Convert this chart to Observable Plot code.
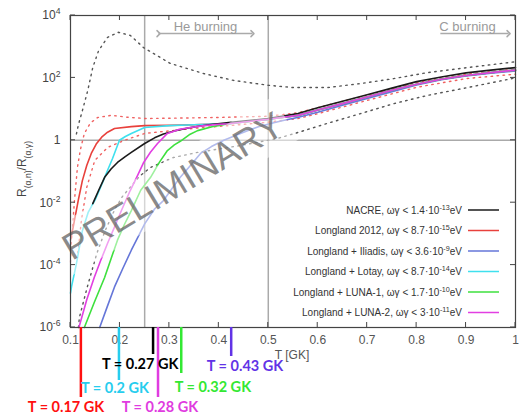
<!DOCTYPE html>
<html><head><meta charset="utf-8">
<script src="https://cdn.jsdelivr.net/npm/d3@7"></script>
<script src="https://cdn.jsdelivr.net/npm/@observablehq/plot@0.6"></script>
<style>
html,body{margin:0;padding:0;background:#fff;}
#chart svg{display:block;overflow:visible;}
</style></head><body><div id="chart"></div>
<script>
// ---------- data ----------
const legendLabels = [
  "NACRE, ωγ < 1.4·10^{-13}eV",
  "Longland 2012, ωγ < 8.7·10^{-15}eV",
  "Longland + Iliadis, ωγ < 3.6·10^{-9}eV",
  "Longland + Lotay, ωγ < 8.7·10^{-14}eV",
  "Longland + LUNA-1, ωγ < 1.7·10^{-10}eV",
  "Longland + LUNA-2, ωγ < 3·10^{-11}eV"
];
const seriesColors = ["#1b1b1b", "#e8413c", "#6576d8", "#3fe0ee", "#3ee03e", "#e23fe2"];

const tailT = [0.42, 0.46, 0.5, 0.56, 0.6, 0.65, 0.7, 0.75, 0.8, 0.85, 0.9, 0.95, 1.0];
const tailR = [3.4, 4.0, 4.7, 6.3, 9.3, 15, 24.5, 40, 63, 91, 120, 148, 178];

const nacreT = [0.145, 0.157, 0.169, 0.182, 0.195, 0.21, 0.223, 0.25, 0.27, 0.288, 0.31, 0.343, 0.38, 0.42, 0.46, 0.5, 0.56, 0.6, 0.65, 0.7, 0.75, 0.8, 0.85, 0.9, 0.95, 1.0];
const nacreR = [0.0093, 0.025, 0.065, 0.12, 0.195, 0.295, 0.41, 0.79, 1.2, 1.58, 2.0, 2.57, 3.16, 3.7, 4.3, 5.0, 7.2, 11, 17.8, 29, 47, 76, 107, 145, 178, 214];

const l12T = [0.1, 0.104, 0.108, 0.116, 0.124, 0.133, 0.142, 0.152, 0.163, 0.175, 0.189, 0.223, 0.25, 0.3, 0.35, 0.39];
const l12R = [6.3e-4, 1.26e-3, 2.7e-3, 0.0126, 0.051, 0.158, 0.38, 0.76, 1.26, 1.82, 2.4, 2.75, 2.95, 3.0, 3.16, 3.3];

const iliadisT = [0.159, 0.174, 0.189, 0.206, 0.223, 0.25, 0.27, 0.288, 0.305, 0.322, 0.343, 0.363, 0.385, 0.41, 0.435, 0.458, 0.48, 0.505, 0.53, 0.559, 0.6, 0.65, 0.7, 0.75, 0.8, 0.85, 0.9, 0.95, 1.0];
const iliadisR = [1e-6, 4.5e-6, 2e-5, 7.9e-5, 3e-4, 2.1e-3, 6.3e-3, 0.0117, 0.028, 0.065, 0.158, 0.38, 0.63, 1.0, 1.45, 2.04, 2.7, 3.47, 4.3, 5.4, 7.9, 13.2, 22, 36, 59, 87, 115, 141, 166];

const lotayT = [0.1, 0.102, 0.112, 0.124, 0.136, 0.15, 0.165, 0.175, 0.185, 0.199, 0.211, 0.223, 0.25, 0.3, 0.35, 0.39];
const lotayR = [1.26e-5, 2.0e-5, 1.12e-4, 1.26e-3, 5e-3, 0.0126, 0.045, 0.11, 0.26, 1.0, 1.32, 1.66, 2.57, 2.95, 3.16, 3.3];

const luna1T = [0.128, 0.148, 0.169, 0.182, 0.195, 0.209, 0.223, 0.242, 0.262, 0.28, 0.296, 0.31, 0.322, 0.34, 0.357, 0.39];
const luna1R = [1e-6, 6.3e-6, 4e-5, 1.6e-4, 6.3e-4, 2e-3, 5.6e-3, 0.025, 0.065, 0.2, 0.47, 0.71, 0.93, 1.5, 2.04, 2.8];

const luna2T = [0.117, 0.133, 0.148, 0.161, 0.175, 0.19, 0.203, 0.221, 0.235, 0.248, 0.262, 0.276, 0.296, 0.32, 0.343, 0.37, 0.4];
const luna2R = [1e-6, 7.9e-6, 4e-5, 1.4e-4, 5e-4, 1.8e-3, 5.6e-3, 0.025, 0.071, 0.195, 0.42, 0.79, 1.66, 2.24, 2.57, 2.95, 3.24];

// uncertainty bands (dotted)
const nacreHiT = [0.112, 0.116, 0.124, 0.135, 0.145, 0.157, 0.175, 0.197, 0.221, 0.248, 0.302, 0.369, 0.43, 0.5, 0.55, 0.62, 0.687, 0.754, 0.822, 0.903, 1.0];
const nacreHiR = [1.6, 3.16, 8.9, 40, 214, 760, 2000, 2900, 2300, 930, 290, 138, 83, 58, 49, 49, 66, 95, 148, 214, 330];
const nacreLoT = [0.116, 0.118, 0.134, 0.153, 0.17, 0.19, 0.205, 0.221, 0.24, 0.262, 0.308, 0.357, 0.444, 0.519, 0.56, 0.62, 0.687, 0.754, 0.822, 0.903, 1.0];
const nacreLoR = [1e-6, 2.1e-6, 2e-5, 2.3e-4, 1.26e-3, 6.3e-3, 0.0158, 0.0316, 0.071, 0.135, 0.28, 0.41, 0.68, 1.15, 1.78, 3.5, 7.2, 15, 27.5, 49, 100];
const l12HiT = [0.1, 0.102, 0.105, 0.108, 0.114, 0.12, 0.128, 0.14, 0.155, 0.183, 0.215, 0.25, 0.3, 0.4, 0.5, 0.56, 0.6, 0.7, 0.8, 0.9, 1.0];
const l12HiR = [1.26e-4, 6.3e-4, 2.5e-3, 0.0117, 0.135, 0.5, 1.66, 3.55, 5.4, 6.3, 5.5, 5.0, 5.1, 5.4, 5.9, 7.6, 11.2, 28, 71, 132, 190];
const l12LoT = [0.115, 0.122, 0.133, 0.149, 0.175, 0.209, 0.25, 0.3, 0.36, 0.42, 0.5, 0.56, 0.6, 0.7, 0.8, 0.9, 1.0];
const l12LoR = [2.5e-4, 2.7e-3, 0.0316, 0.224, 0.59, 1.0, 1.66, 2.0, 2.5, 2.95, 3.8, 5.0, 7.1, 19, 50, 95, 132];

// axis ticks
const xTicks = [0.1, 0.2, 0.3, 0.4, 0.5, 0.6, 0.7, 0.8, 0.9, 1.0];
const yTicks = [1e-6, 1e-4, 1e-2, 1, 1e2, 1e4];
const gridX = [0.25, 0.5];
const gridY = [1];

// burning-phase arrows
const burnLabels = ["He burning", "C burning"];
const burnX1 = [0.278, 0.848];
const burnX2 = [0.468, 0.986];
const burnTextX = [0.373, 0.903];
const burnBoth = [true, false];

// temperature annotations under the axis
const annLabels = ["T = 0.17 GK", "T = 0.2 GK", "T = 0.27 GK", "T = 0.28 GK", "T = 0.32 GK", "T = 0.43 GK"];
const annColors = ["#ff1010", "#27cdee", "#000000", "#e03ce0", "#33e833", "#6233e6"];
const annBarT = [0.122, 0.199, 0.268, 0.278, 0.325, 0.426];
const annTextT = [0.092, 0.191, 0.242, 0.282, 0.389, 0.454];
const annBarLen = [70, 53, 27, 70, 46, 29];
const annTextDy = [80, 61, 37, 80, 60, 39];

// ---------- build tables ----------
function rows(T, R, name) { return T.map((t, i) => ({T: t, R: R[i], name})); }
const solid = [
  rows(l12T.concat(tailT), l12R.concat(tailR), 1),
  rows(lotayT.concat(tailT), lotayR.concat(tailR), 3),
  rows(iliadisT, iliadisR, 2),
  rows(luna1T.concat(tailT), luna1R.concat(tailR), 4),
  rows(nacreT, nacreR, 0),
  rows(luna2T.concat(tailT), luna2R.concat(tailR), 5)
];
const dottedGray = [rows(nacreHiT, nacreHiR, "hi"), rows(nacreLoT, nacreLoR, "lo")];
const dottedRed = [rows(l12HiT, l12HiR, "hi"), rows(l12LoT, l12LoR, "lo")];

const FONT = "'Liberation Sans', Arial, Helvetica, sans-serif";
const W = 519, H = 415, ML = 70, MR = 4, MT = 15, MB = 88;

function frameTicks(index, scales, values, dims) {
  const g = d3.create("svg:g").attr("stroke", "#444").attr("stroke-width", 1);
  const x0 = dims.marginLeft, x1 = dims.width - dims.marginRight;
  const y0 = dims.marginTop, y1 = dims.height - dims.marginBottom;
  for (const v of xTicks) {
    const x = scales.x(v);
    g.append("line").attr("x1", x).attr("x2", x).attr("y1", y1).attr("y2", y1 - 5);
    g.append("line").attr("x1", x).attr("x2", x).attr("y1", y0).attr("y2", y0 + 5);
  }
  for (const v of yTicks) {
    const y = scales.y(v);
    g.append("line").attr("x1", x0).attr("x2", x0 + 5).attr("y1", y).attr("y2", y);
    g.append("line").attr("x1", x1).attr("x2", x1 - 5).attr("y1", y).attr("y2", y);
  }
  return g.node();
}

function legendMark(index, scales, values, dims) {
  const g = d3.create("svg:g").attr("font-family", FONT).attr("font-size", 10).attr("fill", "#333");
  const right = dims.width - dims.marginRight;
  const bottom = dims.height - dims.marginBottom;
  legendLabels.forEach((lab, i) => {
    const y = bottom - 117 + i * 20.5;
    g.append("line").attr("x1", right - 47).attr("x2", right - 16).attr("y1", y).attr("y2", y)
      .attr("stroke", seriesColors[i]).attr("stroke-width", 1.5);
    g.append("text").attr("x", right - 53).attr("y", y).attr("dy", "0.35em")
      .attr("text-anchor", "end").attr("class", "rich").text(lab);
  });
  return g.node();
}

function bandMark(index, scales, values, dims) {
  const cx = (dims.marginLeft + dims.width - dims.marginRight) / 2 - 120;
  const cy = (dims.marginTop + dims.height - dims.marginBottom) / 2 + 15;
  const g = d3.create("svg:g").attr("transform", `translate(${cx},${cy}) rotate(-31)`);
  g.append("rect").attr("x", -132).attr("y", -25).attr("width", 264).attr("height", 50)
    .attr("fill", "#fff").attr("fill-opacity", 0.5);
  return g.node();
}

function yLabelMark(index, scales, values, dims) {
  const cy = (dims.marginTop + dims.height - dims.marginBottom) / 2 - 2;
  const t = d3.create("svg:text").attr("transform", `translate(22,${cy}) rotate(-90)`)
    .attr("text-anchor", "middle").attr("dy", "0.35em")
    .attr("font-family", FONT).attr("font-size", 12).attr("fill", "#444")
    .attr("class", "rich").text("R_{(α,n)}/R_{(α,γ)}");
  return t.node();
}

function annotMark(index, scales, values, dims) {
  const g = d3.create("svg:g");
  const y1 = dims.height - dims.marginBottom;
  annLabels.forEach((lab, i) => {
    const x = scales.x(annBarT[i]);
    g.append("line").attr("x1", x).attr("x2", x).attr("y1", y1).attr("y2", y1 + annBarLen[i])
      .attr("stroke", annColors[i]).attr("stroke-width", 2.5);
  });
  annLabels.forEach((lab, i) => {
    g.append("text").attr("x", scales.x(annTextT[i])).attr("y", y1 + annTextDy[i]).attr("dy", "0.35em")
      .attr("text-anchor", "middle").attr("font-family", "Lato, 'Open Sans', sans-serif")
      .attr("font-weight", 700).attr("font-size", 14.5).attr("fill", annColors[i]).text(lab);
  });
  return g.node();
}

const arrowRows = burnLabels.map((l, i) => ({l, x1: burnX1[i], x2: burnX2[i], tx: burnTextX[i], both: burnBoth[i]}));

const chart = Plot.plot({
  width: W, height: H,
  marginLeft: ML, marginRight: MR, marginTop: MT, marginBottom: MB,
  style: {fontFamily: FONT, background: "#fff", overflow: "visible"},
  x: {domain: [0.1, 1]},
  y: {type: "log", domain: [1e-6, 1e4]},
  marks: [
    Plot.ruleX(gridX, {stroke: "#aaa", strokeWidth: 1.5}),
    Plot.ruleY(gridY, {stroke: "#aaa", strokeWidth: 1.5}),
    ...dottedGray.map(d => Plot.line(d, {x: "T", y: "R", stroke: "#555", strokeWidth: 1.4, strokeDasharray: "1.5,4.5"})),
    ...dottedRed.map(d => Plot.line(d, {x: "T", y: "R", stroke: "#f06262", strokeWidth: 1.4, strokeDasharray: "1.5,4.5"})),
    ...solid.map(d => Plot.line(d, {x: "T", y: "R", stroke: seriesColors[d[0].name], strokeWidth: 1.6})),
    Plot.link(arrowRows.filter(d => d.both), {x1: "x1", x2: "x2", y1: () => 2630, y2: () => 2630, stroke: "#aaa", strokeWidth: 1.5, markerStart: "arrow", markerEnd: "arrow"}),
    Plot.link(arrowRows.filter(d => !d.both), {x1: "x1", x2: "x2", y1: () => 2630, y2: () => 2630, stroke: "#aaa", strokeWidth: 1.5, markerEnd: "arrow"}),
    Plot.text(arrowRows, {x: "tx", y: () => 4470, text: "l", fill: "#9a9a9a", fontSize: 13}),
    legendMark,
    bandMark,
    Plot.text(["PRELIMINARY"], {frameAnchor: "middle", dx: -120, dy: 15, rotate: -31, fontSize: 37, fill: "#6a6a6a", fillOpacity: 0.78, text: d => d}),
    Plot.frame({stroke: "#444", strokeWidth: 1.2}),
    frameTicks,
    Plot.axisX({ticks: xTicks, tickFormat: d => d === 1 ? "1" : d.toFixed(1), tickSize: 0, tickPadding: 8, fontSize: 12, fill: "#555", label: null}),
    Plot.axisY({ticks: yTicks, tickFormat: d => d === 1 ? "1" : `10^{${Math.round(Math.log10(d))}}`, tickSize: 0, tickPadding: 10, fontSize: 12, fill: "#444", label: null}),
    Plot.text(["T [GK]"], {frameAnchor: "bottom", dx: -1, dy: 31, fontSize: 12, fill: "#555", text: d => d}),
    yLabelMark,
    annotMark
  ]
});

// turn ^{..} and _{..} into super/subscript tspans
function richify(el) {
  const s = el.textContent;
  if (!/[\^_]\{/.test(s)) return;
  while (el.firstChild) el.removeChild(el.firstChild);
  const re = /([\^_])\{([^}]*)\}/g;
  let last = 0, m;
  const ns = "http://www.w3.org/2000/svg";
  const add = (txt, shift) => {
    const t = document.createElementNS(ns, "tspan");
    t.textContent = txt;
    if (shift) { t.setAttribute("baseline-shift", shift); t.setAttribute("font-size", "72%"); }
    el.appendChild(t);
  };
  while ((m = re.exec(s))) {
    if (m.index > last) add(s.slice(last, m.index));
    add(m[2], m[1] === "^" ? "super" : "sub");
    last = re.lastIndex;
  }
  if (last < s.length) add(s.slice(last));
}
chart.querySelectorAll("text").forEach(richify);
document.getElementById("chart").appendChild(chart);
</script>
</body></html>
